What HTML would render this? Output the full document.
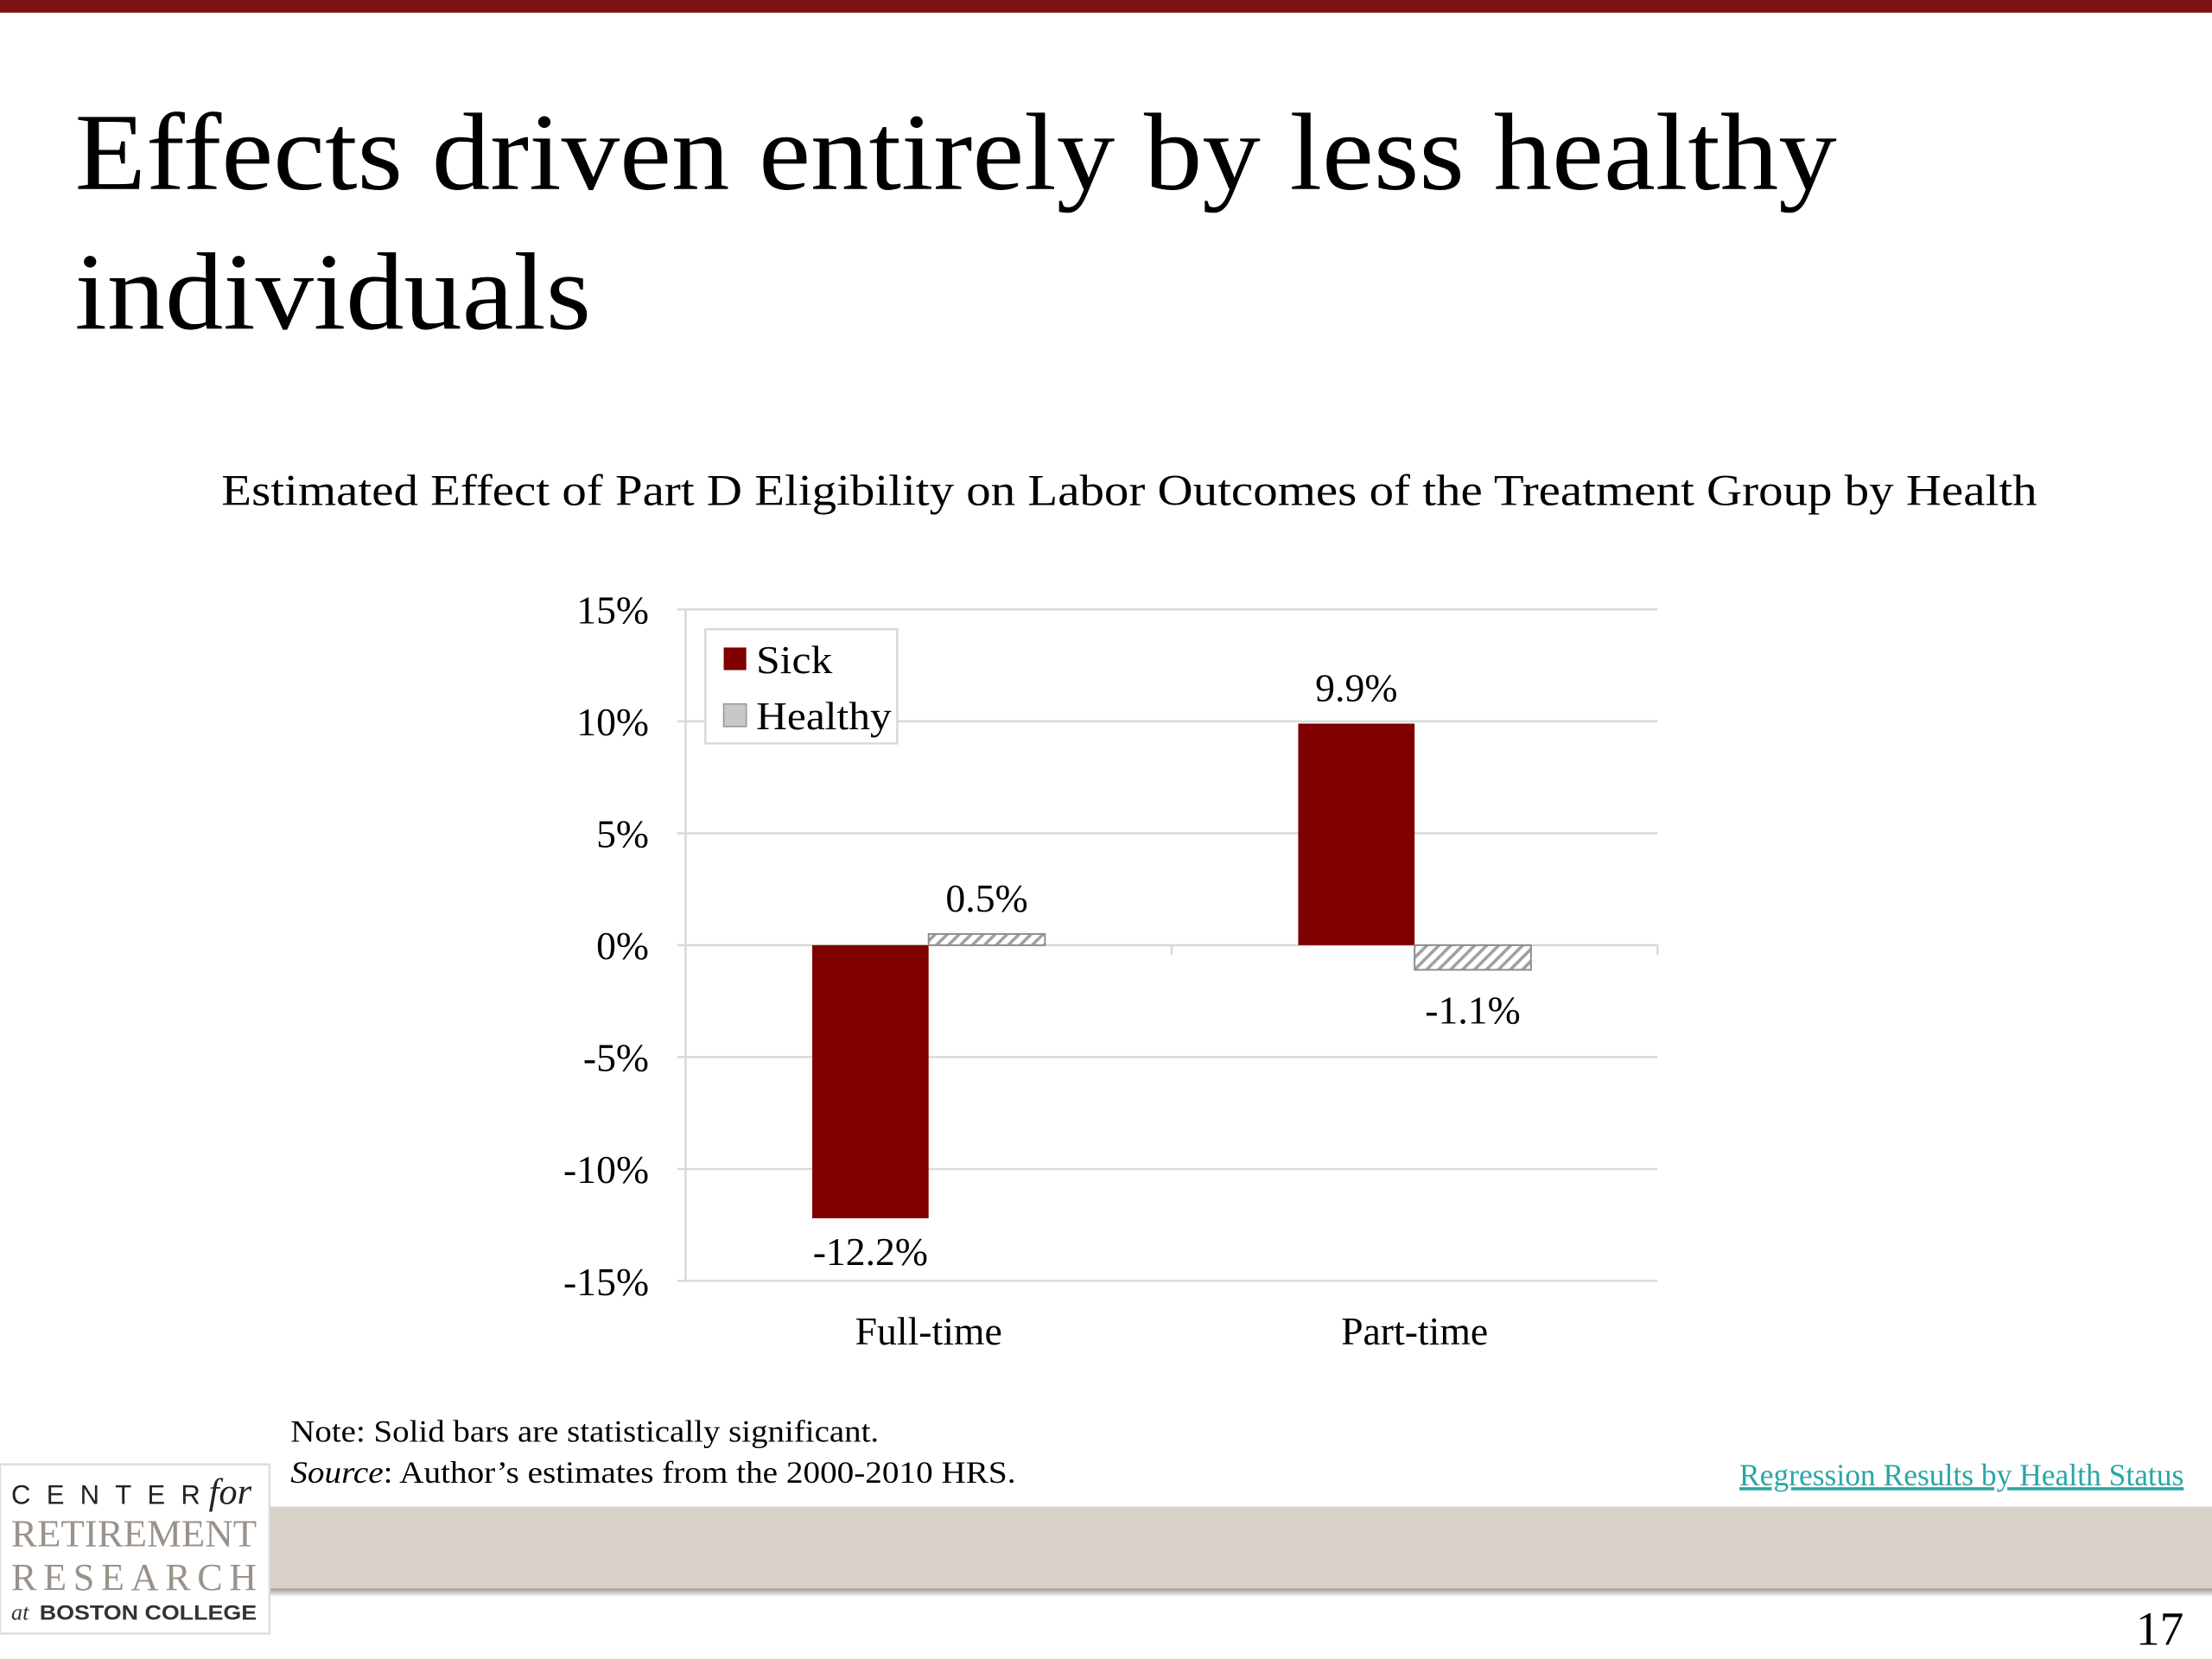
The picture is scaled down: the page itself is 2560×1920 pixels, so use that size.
<!DOCTYPE html>
<html><head><meta charset="utf-8">
<style>
html,body{margin:0;padding:0;background:#fff;}
svg{display:block;}
text{font-family:"Liberation Serif",serif;}
text.sans{font-family:"Liberation Sans",sans-serif;}
</style></head>
<body>
<svg id="s" width="2560" height="1920" viewBox="0 0 1568 1176" xmlns="http://www.w3.org/2000/svg">
<defs>
<pattern id="hatch" width="6" height="6" patternUnits="userSpaceOnUse" patternTransform="rotate(45)">
<rect width="6" height="6" fill="#fff"/>
<rect width="2.2" height="6" fill="#a0a0a0"/>
</pattern>
<linearGradient id="shadow" x1="0" y1="0" x2="0" y2="1">
<stop offset="0" stop-color="#999"/><stop offset="1" stop-color="#fff"/>
</linearGradient>
</defs>
<rect x="0" y="0" width="1568" height="9" fill="#7b1113"/>
<text x="53" y="134" font-size="78" textLength="1249" lengthAdjust="spacingAndGlyphs" fill="#000">Effects driven entirely by less healthy</text>
<text x="53" y="233" font-size="78" textLength="366" lengthAdjust="spacingAndGlyphs" fill="#000">individuals</text>
<text x="157" y="358" font-size="31" textLength="1287" lengthAdjust="spacingAndGlyphs" fill="#000">Estimated Effect of Part D Eligibility on Labor Outcomes of the Treatment Group by Health</text>
<g id="chart"></g>
<g>
<rect x="500" y="446" width="136" height="81" fill="#fff" stroke="#d9d9d9" stroke-width="1.5"/>
<rect x="513" y="459" width="16" height="16" fill="#800000"/>
<text x="536" y="477" font-size="28" textLength="54" lengthAdjust="spacingAndGlyphs">Sick</text>
<rect x="513" y="499" width="16" height="16" fill="#c8c8c8" stroke="#999"/>
<text x="536" y="517" font-size="28" textLength="96" lengthAdjust="spacingAndGlyphs">Healthy</text>
</g>
<text x="206" y="1022" font-size="22" textLength="417" lengthAdjust="spacingAndGlyphs">Note: Solid bars are statistically significant.</text>
<text x="206" y="1051" font-size="22" textLength="514" lengthAdjust="spacingAndGlyphs"><tspan font-style="italic">Source</tspan>: Author’s estimates from the 2000-2010 HRS.</text>
<text x="1233" y="1053" font-size="22" textLength="315" lengthAdjust="spacingAndGlyphs" fill="#2aa6a6" text-decoration="underline">Regression Results by Health Status</text>
<rect x="0" y="1068" width="1568" height="58" fill="#d9d2ca"/>
<rect x="0" y="1126" width="1568" height="6" fill="url(#shadow)"/>
<g>
<rect x="0" y="1038" width="191" height="120" fill="#fff" stroke="#ddd" stroke-width="1.5"/>
<text class="sans" x="8" y="1066" font-size="19" textLength="134" lengthAdjust="spacing" fill="#222">CENTER</text>
<text x="148" y="1066" font-size="26" font-style="italic" fill="#222">for</text>
<text x="8" y="1096" font-size="27" textLength="174" lengthAdjust="spacingAndGlyphs" fill="#9a928a">RETIREMENT</text>
<text x="8" y="1127" font-size="27" textLength="174" lengthAdjust="spacing" fill="#9a928a">RESEARCH</text>
<text x="8" y="1148" font-size="16" font-style="italic" fill="#333">at</text>
<text class="sans" x="28" y="1148" font-size="15" font-weight="bold" textLength="154" lengthAdjust="spacingAndGlyphs" fill="#333">BOSTON COLLEGE</text>
</g>
<text x="1548" y="1166" font-size="34" text-anchor="end">17</text>
</svg>
<script>
const categories = ["Full-time", "Part-time"];
const sickValues = [-12.2, 9.9];
const healthyValues = [0.5, -1.1];
const tickValues = [15, 10, 5, 0, -5, -10, -15];
const sickLabels = ["-12.2%", "9.9%"];
const healthyLabels = ["0.5%", "-1.1%"];

const NS = "http://www.w3.org/2000/svg";
const g = document.getElementById("chart");
const plotL = 486, plotR = 1175, plotT = 432, plotB = 908;
const yMin = -15, yMax = 15;
function y(v){ return plotT + (yMax - v) / (yMax - yMin) * (plotB - plotT); }
const catW = (plotR - plotL) / categories.length;
function xc(i){ return plotL + catW * (i + 0.5); }
const barW = 82.5;
function mk(tag, attrs){ const e = document.createElementNS(NS, tag); for (const k in attrs) e.setAttribute(k, attrs[k]); g.appendChild(e); return e; }

tickValues.forEach(function(t){
  const gl = mk("line", {x1: plotL - 6, x2: plotR, y1: y(t), y2: y(t), stroke: "#d9d9d9", "stroke-width": 1.5});
  
  
  const tl = mk("text", {x: 460, y: y(t) + 10, "font-size": 28, "text-anchor": "end"});
  tl.textContent = t + "%";
  
  
});
const ax = mk("line", {x1: plotL, x2: plotL, y1: plotT, y2: plotB, stroke: "#d9d9d9", "stroke-width": 1.5});


for (let i = 0; i <= categories.length; i++) {
  const tk = mk("line", {x1: plotL + catW * i, x2: plotL + catW * i, y1: y(0), y2: y(0) + 7, stroke: "#d9d9d9", "stroke-width": 1.5});
  
  
}

categories.forEach(function(c, i){
  const cx = xc(i);
  const sv = sickValues[i], hv = healthyValues[i];
  const sb = mk("rect", {x: cx - barW, y: Math.min(y(sv), y(0)), width: barW, height: Math.abs(y(sv) - y(0)), fill: "#800000"});
  
  
  const hb = mk("rect", {x: cx, y: Math.min(y(hv), y(0)), width: barW, height: Math.abs(y(hv) - y(0)), fill: "url(#hatch)", stroke: "#8c8c8c", "stroke-width": 1.2});
  
  
  const sl = mk("text", {x: cx - barW / 2, y: sv >= 0 ? y(sv) - 16 : y(sv) + 33, "font-size": 28, "text-anchor": "middle"});
  sl.textContent = sickLabels[i];
  
  
  const hl = mk("text", {x: cx + barW / 2, y: hv >= 0 ? y(hv) - 16 : y(hv) + 38, "font-size": 28, "text-anchor": "middle"});
  hl.textContent = healthyLabels[i];
  
  
  const cl = mk("text", {x: cx, y: 953, "font-size": 28, "text-anchor": "middle"});
  cl.textContent = c;
  
  
});
</script>
</body></html>
